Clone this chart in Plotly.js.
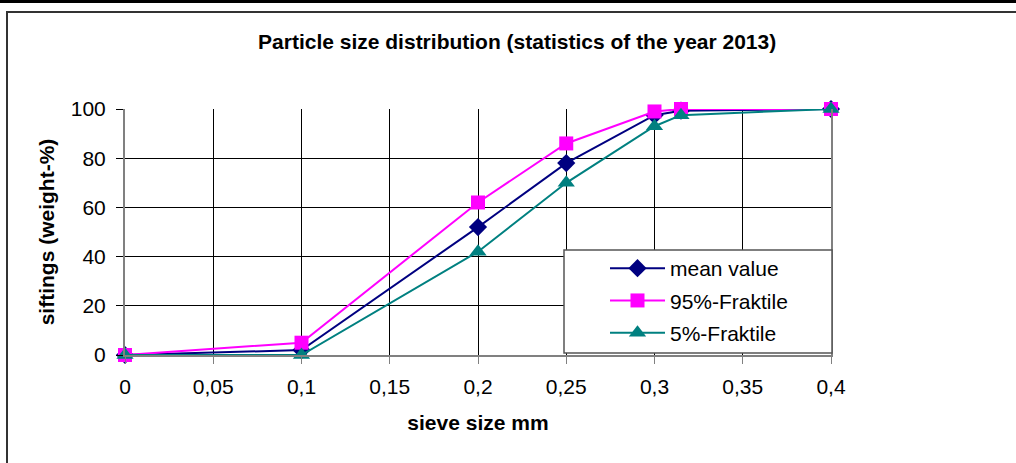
<!DOCTYPE html>
<html>
<head>
<meta charset="utf-8">
<script src="https://cdn.plot.ly/plotly-3.0.1.min.js"></script>
<style>
  html, body { margin: 0; padding: 0; background: #fff; width: 1016px; height: 463px; overflow: hidden; }
  #topbar { position: absolute; left: 0; top: 0; width: 1016px; height: 3px; background: #000; }
  #frame { position: absolute; left: 6px; top: 11px; width: 1020px; height: 470px; border: 2px solid #333; box-sizing: border-box; }
  #chart { position: absolute; left: 0; top: 0; width: 1016px; height: 463px; }
</style>
</head>
<body>
<div id="topbar"></div>
<div id="frame"></div>
<div id="chart"></div>
<script>
const sieveSizes = [0, 0.1, 0.2, 0.25, 0.3, 0.315, 0.4];
const meanValue = [0, 2, 52, 78, 97.5, 99.3, 100];
const fraktile95 = [0, 5, 62, 86, 99, 100, 100];
const fraktile5 = [0, 0, 42, 70, 93, 97.5, 100];
const seriesNames = ['mean value', '95%-Fraktile', '5%-Fraktile'];
const xTicks = [0, 0.05, 0.1, 0.15, 0.2, 0.25, 0.3, 0.35, 0.4];
const yTicks = [0, 20, 40, 60, 80, 100];

const FONT = 'Liberation Sans, Arial, sans-serif';

const traces = [
  { x: sieveSizes, y: meanValue, name: seriesNames[0], legendgroup: 'a', cliponaxis: false,
    mode: 'lines+markers', line: { color: '#000080', width: 2 },
    marker: { symbol: 'diamond', size: 14, color: '#000080' } },
  { x: sieveSizes, y: fraktile95, name: seriesNames[1], legendgroup: 'b', cliponaxis: false,
    mode: 'lines+markers', line: { color: '#FF00FF', width: 2 },
    marker: { symbol: 'square', size: 14, color: '#FF00FF' } },
  { x: sieveSizes, y: fraktile5, name: seriesNames[2], legendgroup: 'c', cliponaxis: false,
    mode: 'lines+markers', line: { color: '#008080', width: 2 },
    marker: { symbol: 'triangle-up', size: 15, color: '#008080' } }
];

// plot area in px: x 125..831, y 109..355
const px2x = p => (p - 125) / 706;
const px2y = p => (355 - p) / 246;

const layout = {
  width: 1016, height: 463,
  paper_bgcolor: 'rgba(0,0,0,0)', plot_bgcolor: '#fff',
  separators: ',.',
  margin: { l: 125, r: 185, t: 109, b: 108 },
  font: { family: FONT, size: 21, color: '#000' },
  title: { text: '<b>Particle size distribution (statistics of the year 2013)</b>',
    font: { family: FONT, size: 21, color: '#000' },
    xref: 'container', x: 0.509, xanchor: 'center', yref: 'container', y: 0.91, yanchor: 'middle' },
  xaxis: {
    range: [0, 0.4], tickvals: xTicks, ticktext: xTicks.map(v => String(v).replace('.', ',')),
    showgrid: true, gridcolor: '#000', gridwidth: 1,
    showline: true, linecolor: '#808080', linewidth: 2,
    ticks: 'outside', ticklen: 7, tickcolor: '#808080', zeroline: false,
    ticklabelstandoff: 5,
    tickfont: { family: FONT, size: 21 },
    title: { text: '<b>sieve size mm</b>', font: { family: FONT, size: 21 }, standoff: 18 }
  },
  yaxis: {
    range: [0, 100], tickvals: yTicks,
    showgrid: true, gridcolor: '#000', gridwidth: 1,
    showline: true, linecolor: '#808080', linewidth: 2, mirror: true,
    ticks: 'outside', ticklen: 7, tickcolor: '#000', zeroline: false,
    ticklabelstandoff: 6,
    tickfont: { family: FONT, size: 21 },
    title: { text: '<b>siftings (weight-%)</b>', font: { family: FONT, size: 21 }, standoff: 10 }
  },
  shapes: [
    { type: 'rect', xref: 'paper', yref: 'paper', layer: 'above',
      x0: px2x(564), x1: px2x(832), y0: px2y(353), y1: px2y(250),
      fillcolor: '#fff', line: { color: '#555', width: 1.5 } }
  ],
  showlegend: true,
  legend: {
    x: px2x(605), y: px2y(248), xanchor: 'left', yanchor: 'top',
    bgcolor: 'rgba(0,0,0,0)', borderwidth: 0,
    font: { family: FONT, size: 21 },
    traceorder: 'grouped', tracegroupgap: 2,
    itemwidth: 55
  }
};

Plotly.newPlot('chart', traces, layout, { displayModeBar: false, staticPlot: true });
</script>
</body>
</html>
